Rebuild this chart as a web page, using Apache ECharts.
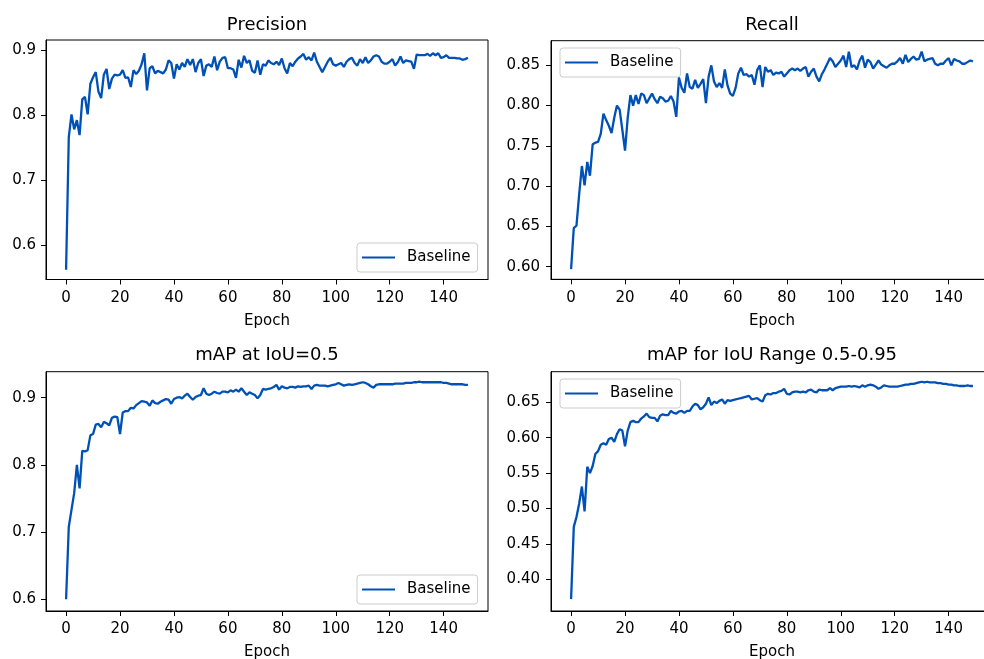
<!DOCTYPE html>
<html><head><meta charset="utf-8">
<script src="https://cdn.jsdelivr.net/npm/echarts@6/dist/echarts.min.js"></script>
<style>html,body{margin:0;padding:0;background:#fff}#c{width:984px;height:659px}</style>
</head><body><div id="c"></div><script>
const epochs = Array.from({length:150},(_, i)=>i);

const precision = [
0.562,0.766,0.801,0.778,0.792,0.769,0.824,0.828,0.801,0.848,
0.858,0.866,0.836,0.826,0.862,0.871,0.840,0.856,0.862,0.861,
0.862,0.869,0.857,0.858,0.843,0.869,0.863,0.868,0.878,0.895,
0.838,0.872,0.875,0.864,0.868,0.866,0.864,0.870,0.884,0.880,
0.856,0.878,0.870,0.880,0.874,0.886,0.877,0.886,0.866,0.880,
0.886,0.860,0.876,0.878,0.874,0.890,0.869,0.882,0.888,0.889,
0.872,0.872,0.870,0.857,0.885,0.873,0.891,0.880,0.884,0.868,
0.865,0.884,0.862,0.878,0.876,0.884,0.880,0.878,0.882,0.877,
0.887,0.872,0.864,0.880,0.875,0.882,0.887,0.890,0.894,0.885,
0.889,0.884,0.896,0.882,0.874,0.866,0.874,0.882,0.888,0.878,
0.876,0.878,0.880,0.874,0.882,0.886,0.888,0.880,0.876,0.886,
0.880,0.889,0.880,0.884,0.890,0.892,0.890,0.882,0.879,0.879,
0.882,0.886,0.876,0.881,0.890,0.880,0.884,0.883,0.882,0.871,
0.893,0.892,0.892,0.892,0.894,0.891,0.895,0.892,0.895,0.888,
0.889,0.892,0.888,0.888,0.888,0.887,0.887,0.885,0.886,0.888];

const recall = [
0.597,0.648,0.651,0.690,0.725,0.701,0.730,0.713,0.752,0.754,
0.755,0.765,0.790,0.782,0.775,0.766,0.785,0.800,0.795,0.770,
0.744,0.785,0.813,0.800,0.813,0.802,0.815,0.813,0.803,0.809,
0.815,0.808,0.803,0.811,0.809,0.805,0.806,0.812,0.805,0.786,
0.835,0.822,0.816,0.840,0.823,0.821,0.832,0.822,0.827,0.833,
0.803,0.836,0.850,0.830,0.823,0.828,0.822,0.845,0.825,0.815,
0.812,0.822,0.840,0.847,0.838,0.839,0.836,0.838,0.826,0.844,
0.850,0.823,0.848,0.842,0.844,0.838,0.841,0.840,0.842,0.836,
0.840,0.844,0.846,0.844,0.846,0.843,0.846,0.848,0.836,0.842,
0.846,0.836,0.830,0.839,0.845,0.852,0.859,0.855,0.848,0.852,
0.856,0.862,0.848,0.867,0.848,0.850,0.845,0.856,0.862,0.847,
0.857,0.854,0.846,0.851,0.856,0.851,0.849,0.847,0.850,0.852,
0.852,0.855,0.859,0.852,0.863,0.854,0.858,0.861,0.857,0.858,
0.867,0.855,0.857,0.858,0.859,0.852,0.850,0.852,0.852,0.856,
0.859,0.850,0.858,0.856,0.855,0.852,0.852,0.854,0.856,0.855];

const map50 = [
0.600,0.708,0.733,0.758,0.800,0.765,0.821,0.820,0.822,0.844,
0.846,0.860,0.861,0.856,0.864,0.862,0.859,0.870,0.872,0.871,
0.846,0.878,0.880,0.880,0.885,0.884,0.889,0.892,0.895,0.894,
0.893,0.888,0.896,0.892,0.891,0.894,0.896,0.898,0.897,0.891,
0.898,0.900,0.901,0.899,0.903,0.906,0.901,0.897,0.901,0.903,
0.904,0.914,0.906,0.904,0.906,0.909,0.907,0.906,0.909,0.909,
0.908,0.911,0.909,0.912,0.909,0.914,0.909,0.904,0.908,0.906,
0.904,0.899,0.904,0.913,0.912,0.913,0.914,0.916,0.919,0.912,
0.917,0.915,0.914,0.916,0.916,0.915,0.917,0.916,0.917,0.917,
0.918,0.913,0.918,0.919,0.918,0.918,0.918,0.917,0.918,0.919,
0.920,0.922,0.920,0.918,0.919,0.920,0.919,0.920,0.921,0.922,
0.923,0.922,0.920,0.917,0.915,0.919,0.920,0.920,0.920,0.920,
0.920,0.920,0.921,0.921,0.921,0.921,0.922,0.922,0.922,0.923,
0.923,0.924,0.923,0.923,0.923,0.923,0.923,0.923,0.923,0.923,
0.922,0.922,0.921,0.920,0.920,0.920,0.920,0.920,0.919,0.919];

const map5095 = [
0.372,0.474,0.488,0.507,0.531,0.496,0.559,0.550,0.560,0.577,
0.581,0.590,0.592,0.590,0.598,0.600,0.594,0.605,0.612,0.610,
0.588,0.610,0.622,0.624,0.622,0.622,0.627,0.630,0.634,0.629,
0.628,0.628,0.623,0.631,0.633,0.632,0.632,0.638,0.635,0.634,
0.637,0.638,0.635,0.638,0.638,0.644,0.648,0.646,0.640,0.643,
0.648,0.657,0.646,0.651,0.649,0.652,0.654,0.648,0.653,0.652,
0.653,0.654,0.655,0.656,0.657,0.658,0.659,0.654,0.655,0.656,
0.653,0.651,0.660,0.662,0.661,0.663,0.663,0.665,0.666,0.669,
0.662,0.661,0.664,0.665,0.665,0.664,0.665,0.664,0.667,0.668,
0.665,0.664,0.668,0.667,0.667,0.667,0.670,0.667,0.670,0.671,
0.672,0.672,0.672,0.673,0.672,0.673,0.672,0.671,0.674,0.672,
0.674,0.675,0.674,0.672,0.669,0.671,0.674,0.673,0.672,0.672,
0.672,0.672,0.673,0.674,0.675,0.675,0.676,0.676,0.677,0.678,
0.679,0.678,0.679,0.678,0.678,0.678,0.677,0.677,0.676,0.676,
0.675,0.675,0.674,0.674,0.673,0.673,0.673,0.674,0.673,0.673];

const xTicks = [0,20,40,60,80,100,120,140];
const yTicksPrecision = [0.6,0.7,0.8,0.9];
const yTicksRecall = [0.60,0.65,0.70,0.75,0.80,0.85];
const yTicksMap50 = [0.6,0.7,0.8,0.9];
const yTicksMap5095 = [0.40,0.45,0.50,0.55,0.60,0.65];
const titles = ['Precision','Recall','mAP at IoU=0.5','mAP for IoU Range 0.5-0.95'];
const seriesName = 'Baseline';
const xName = 'Epoch';

const FONT = 'DejaVu Sans';
const LINE = '#0051b5';
const panels = [
  {data: precision, ticks: yTicksPrecision, dec: 1, left: 46, top: 40, width: 442, height: 239.5, ymin: 0.5469, ymax: 0.9154, titleTop: 16, lgLeft: 357, lgTop: 243, lMargin: 10},
  {data: recall, ticks: yTicksRecall, dec: 2, left: 551, top: 40.7, width: 442, height: 238.6, ymin: 0.5843, ymax: 0.8806, titleTop: 16, lgLeft: 560, lgTop: 48, lMargin: 11},
  {data: map50, ticks: yTicksMap50, dec: 1, left: 46, top: 371.7, width: 442, height: 239.3, ymin: 0.5826, ymax: 0.9387, titleTop: 346, lgLeft: 357, lgTop: 575, lMargin: 10},
  {data: map5095, ticks: yTicksMap5095, dec: 2, left: 551, top: 371.7, width: 442, height: 239.3, ymin: 0.3552, ymax: 0.6932, titleTop: 346, lgLeft: 560, lgTop: 379, lMargin: 11}
];

const chart = echarts.init(document.getElementById('c'), null, {renderer: 'canvas'});
const option = {
  animation: false,
  backgroundColor: '#fff',
  title: panels.map((p, i) => ({
    text: titles[i], left: p.left + p.width / 2, top: p.titleTop, textAlign: 'center', padding: 0,
    textStyle: {fontFamily: FONT, fontSize: 18, fontWeight: 'normal', color: '#000'}
  })),
  legend: panels.map(p => ({
    data: [seriesName], left: p.lgLeft, top: p.lgTop, orient: 'vertical', selectedMode: false,
    icon: 'rect', padding: [6, 7, 6, 5], itemWidth: 33, itemHeight: 2,
    borderColor: '#cccccc', borderWidth: 1, borderRadius: 3, backgroundColor: 'rgba(255,255,255,0.8)',
    textStyle: {fontFamily: FONT, fontSize: 15, color: '#000', padding: [0, 0, 0, 7], lineHeight: 17}
  })),
  grid: panels.map(p => ({
    left: p.left, top: p.top, width: p.width, height: p.height, show: true,
    borderColor: '#000', borderWidth: 1, backgroundColor: 'transparent', containLabel: false, outerBoundsMode: 'none'
  })),
  xAxis: panels.map((p, i) => ({
    gridIndex: i, type: 'value', min: -7.45, max: 156.45,
    name: xName, nameLocation: 'middle', nameGap: 34,
    nameTextStyle: {fontFamily: FONT, fontSize: 15, color: '#000'},
    axisLine: {show: true, onZero: false, lineStyle: {color: '#000', width: 1}},
    axisTick: {show: true, length: 5, customValues: xTicks, lineStyle: {color: '#000', width: 1}},
    axisLabel: {customValues: xTicks, margin: 11, fontFamily: FONT, fontSize: 15, color: '#000'},
    splitLine: {show: false}
  })),
  yAxis: panels.map((p, i) => ({
    gridIndex: i, type: 'value', min: p.ymin, max: p.ymax, scale: true,
    axisLine: {show: true, onZero: false, lineStyle: {color: '#000', width: 1}},
    axisTick: {show: true, length: 5, customValues: p.ticks, lineStyle: {color: '#000', width: 1}},
    axisLabel: {customValues: p.ticks, margin: p.lMargin, fontFamily: FONT, fontSize: 15, color: '#000',
      formatter: v => Number(v).toFixed(p.dec)},
    splitLine: {show: false}
  })),
  series: panels.map((p, i) => ({
    name: seriesName, type: 'line', xAxisIndex: i, yAxisIndex: i,
    data: epochs.map((e, j) => [e, p.data[j]]),
    symbol: 'none', showSymbol: false,
    lineStyle: {color: LINE, width: 2.3}, itemStyle: {color: LINE},
    clip: true
  }))
};
chart.setOption(option);
</script></body></html>
